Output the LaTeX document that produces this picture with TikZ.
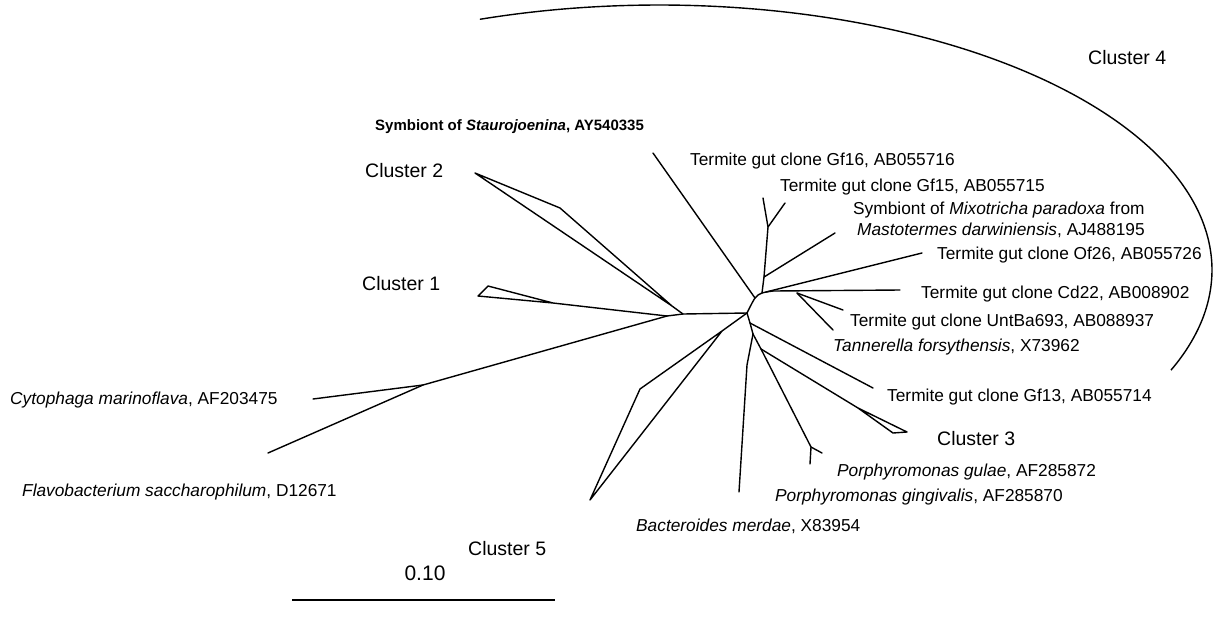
\documentclass[tikz,border=0pt]{standalone}
\usepackage{fontspec}
\setmainfont{Liberation Sans}
\begin{document}
\begin{tikzpicture}[x=1pt,y=-1pt,
  br/.style={line width=1.4pt, line join=round, line cap=round},
  lab/.style={font=\fontsize{17.3}{20.8}\selectfont, inner sep=0pt, anchor=base west},
  clab/.style={font=\fontsize{19.5}{23}\selectfont, inner sep=0pt, anchor=base west}]
\useasboundingbox (0,0) rectangle (1213,630);
% internal nodes and tips
\coordinate (A) at (747,313);
\coordinate (B) at (750,323);
\coordinate (C) at (753,334);
\coordinate (D) at (761,349);
\coordinate (P) at (811,447);
\coordinate (gul) at (822,453);
\coordinate (gin) at (810,464);
\coordinate (bk) at (747,365);
\coordinate (btip) at (739,492);
\coordinate (gf13) at (873,388);
\coordinate (c3a) at (858,408);
\coordinate (c3b) at (907,432);
\coordinate (c3c) at (893,433);
\coordinate (s5) at (722,331);
\coordinate (s5k) at (640,389);
\coordinate (s5t) at (590,500);
\coordinate (L1) at (683,314);
\coordinate (L0) at (667,316);
\coordinate (c2j) at (672,306);
\coordinate (c2t) at (475,173);
\coordinate (c2k) at (560,208);
\coordinate (c1j) at (553,303);
\coordinate (c1a) at (478,296);
\coordinate (c1b) at (488,286);
\coordinate (O) at (423,385);
\coordinate (cyt) at (313,399);
\coordinate (fla) at (268,453);
\coordinate (E) at (755,298);
\coordinate (F) at (762,293);
\coordinate (F2) at (766,292);
\coordinate (G) at (773,291);
\coordinate (st) at (653,153);
\coordinate (M) at (764,277);
\coordinate (Q) at (768,227);
\coordinate (gf16) at (763,198);
\coordinate (gf15) at (785,203);
\coordinate (mix) at (835,233);
\coordinate (of) at (922,253);
\coordinate (cd) at (900,290);
\coordinate (H) at (797,293);
\coordinate (unt) at (843,310);
\coordinate (tan) at (833,330);
\coordinate (sb1) at (292,600);
\coordinate (sb2) at (555,600);
% branches
\draw[br] plot[smooth] coordinates {(A) (E) (F) (G)};
\draw[br] (A) -- (B) -- (C);
\draw[br] (C) -- (D) -- (P) -- (gul);
\draw[br] (P) -- (gin);
\draw[br] (C) -- (bk) -- (btip);
\draw[br] (B) -- (gf13);
\draw[br] (D) -- (c3a) -- (c3b) -- (c3c) -- (c3a);
\draw[br] (A) -- (s5) -- (s5k) -- (s5t) -- (s5);
\draw[br] (A) -- (L1) -- (L0);
\draw[br] (L1) -- (c2j) -- (c2t) -- (c2k) -- (c2j);
\draw[br] (L0) -- (c1j) -- (c1a) -- (c1b) -- (c1j);
\draw[br] (L0) -- (O) -- (cyt);
\draw[br] (O) -- (fla);
\draw[br] (E) -- (st);
\draw[br] (F) -- (M) -- (Q) -- (gf16);
\draw[br] (Q) -- (gf15);
\draw[br] (M) -- (mix);
\draw[br] (F2) -- (of);
\draw[br] (G) -- (cd);
\draw[br] (H) -- (unt);
\draw[br] (H) -- (tan);
% cluster 4 arc
\draw[line width=1.4pt] plot[smooth, domain=-108.9:22.2, samples=120] ({659+553*cos(\x)},{270+265*sin(\x)});
% scale bar
\draw[line width=1.4pt] (sb1) -- (sb2);
\node[font=\fontsize{21}{25}\selectfont, inner sep=0pt, anchor=base] (sbl) at (425,580) {0.10};
% labels
\node[font=\fontsize{15}{18}\selectfont\bfseries, inner sep=0pt, anchor=base west] (lst) at (375,130.4) {Symbiont of \textit{Staurojoenina}, AY540335};
\node[clab] (lc2) at (365,177) {Cluster 2};
\node[clab] (lc1) at (362,290) {Cluster 1};
\node[clab] (lc5) at (468,555) {Cluster 5};
\node[clab] (lc3) at (937,445) {Cluster 3};
\node[clab] (lc4) at (1088,64) {Cluster 4};
\node[lab] (lcyt) at (10,404) {\textit{Cytophaga marinoflava}, AF203475};
\node[lab] (lfla) at (22,496) {\textit{Flavobacterium saccharophilum}, D12671};
\node[lab] (lbac) at (636,531) {\textit{Bacteroides merdae}, X83954};
\node[lab] (lgin) at (775,501) {\textit{Porphyromonas gingivalis}, AF285870};
\node[lab] (lgul) at (837,476) {\textit{Porphyromonas gulae}, AF285872};
\node[lab] (lgf13) at (887,401) {Termite gut clone Gf13, AB055714};
\node[lab] (ltan) at (833,351) {\textit{Tannerella forsythensis}, X73962};
\node[lab] (lunt) at (850,326) {Termite gut clone UntBa693, AB088937};
\node[lab] (lcd) at (921,298) {Termite gut clone Cd22, AB008902};
\node[lab] (lof) at (937,259) {Termite gut clone Of26, AB055726};
\node[lab] (lmix1) at (853,214) {Symbiont of \textit{Mixotricha paradoxa} from};
\node[lab] (lmix2) at (857,235) {\textit{Mastotermes darwiniensis}, AJ488195};
\node[lab] (lgf15) at (780,191) {Termite gut clone Gf15, AB055715};
\node[lab] (lgf16) at (690,165) {Termite gut clone Gf16, AB055716};
\end{tikzpicture}
\end{document}
